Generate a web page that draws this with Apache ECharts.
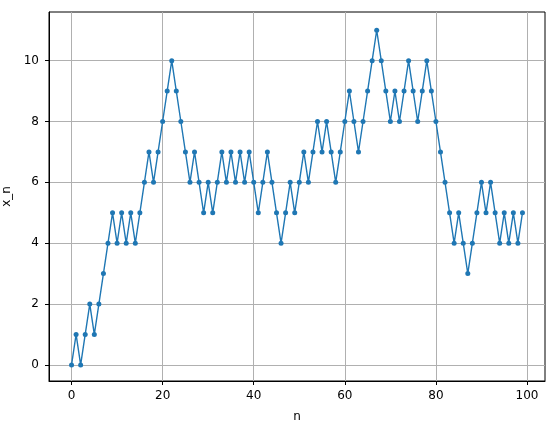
<!DOCTYPE html>
<html>
<head>
<meta charset="utf-8">
<script src="https://cdn.jsdelivr.net/npm/echarts@6/dist/echarts.min.js"></script>
<style>
  html, body { margin: 0; padding: 0; background: #fff; }
  #chart { width: 556px; height: 428px; }
</style>
</head>
<body>
<div id="chart"></div>
<script>
  // random walk values, n = 0..99
  const xn = [
    0, 1, 0, 1, 2, 1, 2, 3, 4, 5,
    4, 5, 4, 5, 4, 5, 6, 7, 6, 7,
    8, 9, 10, 9, 8, 7, 6, 7, 6, 5,
    6, 5, 6, 7, 6, 7, 6, 7, 6, 7,
    6, 5, 6, 7, 6, 5, 4, 5, 6, 5,
    6, 7, 6, 7, 8, 7, 8, 7, 6, 7,
    8, 9, 8, 7, 8, 9, 10, 11, 10, 9,
    8, 9, 8, 9, 10, 9, 8, 9, 10, 9,
    8, 7, 6, 5, 4, 5, 4, 3, 4, 5,
    6, 5, 6, 5, 4, 5, 4, 5, 4, 5
  ];
  const xTicks = [0, 20, 40, 60, 80, 100];
  const yTicks = [0, 2, 4, 6, 8, 10];

  const points = xn.map((v, i) => [i, v]);

  const font = 'DejaVu Sans';
  const chart = echarts.init(document.getElementById('chart'));

  chart.setOption({
    animation: false,
    grid: {
      left: 49, right: 11, top: 12, bottom: 47,
      outerBoundsMode: 'none',
      containLabel: false,
      show: true, borderColor: '#000', borderWidth: 1, backgroundColor: 'transparent'
    },
    xAxis: {
      type: 'value',
      min: -4.95,
      max: 103.95,
      name: 'n',
      nameLocation: 'middle',
      nameGap: 30,
      nameTextStyle: { fontFamily: font, fontSize: 12, color: '#000' },
      axisLine: { show: true, onZero: false, lineStyle: { color: '#000', width: 1 } },
      axisTick: { show: true, inside: false, length: 4, customValues: xTicks, lineStyle: { color: '#000' } },
      axisLabel: { customValues: xTicks, margin: 9, fontFamily: font, fontSize: 12, color: '#000' },
      splitLine: { show: true, lineStyle: { color: '#b0b0b0', width: 1 } }
    },
    yAxis: {
      type: 'value',
      min: -0.53,
      max: 11.6,
      name: 'x_n',
      nameLocation: 'middle',
      nameRotate: 90,
      nameGap: 34,
      nameTextStyle: { fontFamily: font, fontSize: 12, color: '#000' },
      axisLine: { show: true, onZero: false, lineStyle: { color: '#000', width: 1 } },
      axisTick: { show: true, inside: false, length: 4, customValues: yTicks, lineStyle: { color: '#000' } },
      axisLabel: { customValues: yTicks, margin: 10, fontFamily: font, fontSize: 12, color: '#000' },
      splitLine: { show: true, lineStyle: { color: '#b0b0b0', width: 1 } }
    },
    series: [{
      type: 'line',
      data: points,
      symbol: 'circle',
      symbolSize: 5,
      showAllSymbol: true,
      itemStyle: { color: '#1f77b4' },
      lineStyle: { color: '#1f77b4', width: 1.4 },
      z: 3
    }]
  });
</script>
</body>
</html>
